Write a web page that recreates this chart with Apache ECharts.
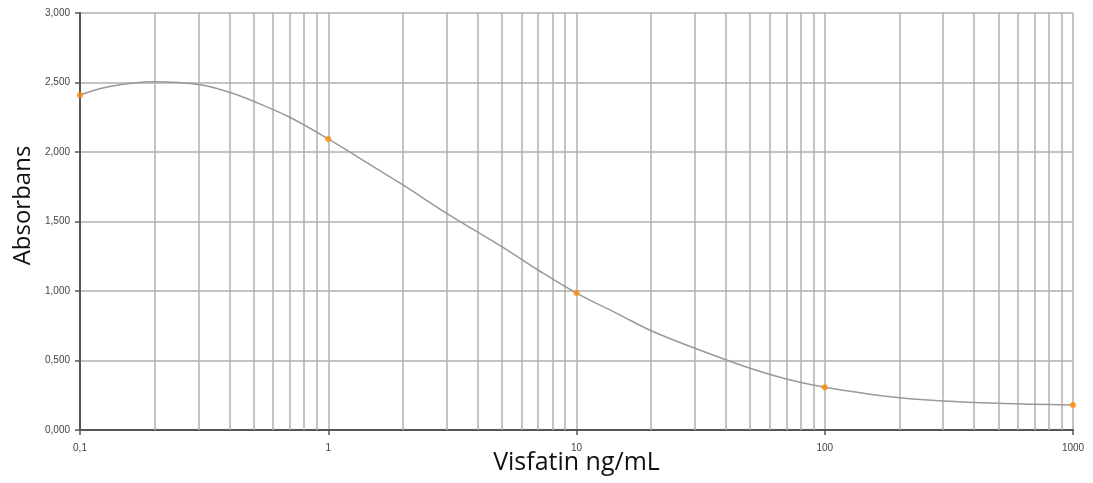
<!DOCTYPE html>
<html>
<head>
<meta charset="utf-8">
<script src="https://cdn.jsdelivr.net/npm/echarts@6/dist/echarts.min.js"></script>
<style>html,body{margin:0;padding:0;background:#fff}#c{width:1093px;height:483px}</style>
</head>
<body>
<div id="c"></div>
<script>
// Measured standards (orange points)
const pointX = [0.1, 1, 10, 100, 1000];
const pointY = [2.41, 2.094, 0.985, 0.307, 0.18];
// Fitted curve
const curveX = [0.1, 0.13, 0.2, 0.3, 0.4, 0.5, 0.7, 1, 1.5, 2, 3, 5, 7, 10, 15, 20, 30, 50, 70, 100, 150, 200, 300, 500, 700, 1000];
const curveY = [2.41, 2.47, 2.505, 2.485, 2.43, 2.365, 2.25, 2.094, 1.90, 1.763, 1.559, 1.319, 1.151, 0.985, 0.827, 0.714, 0.588, 0.444, 0.367, 0.307, 0.259, 0.232, 0.209, 0.192, 0.186, 0.18];
// Axis settings
const xMajorTicks = [0.1, 1, 10, 100, 1000];
const xTickLabels = ['0,1', '1', '10', '100', '1000'];
const yMin = 0, yMax = 3, yStep = 0.5;
const xTitle = 'Visfatin ng/mL';
const yTitle = 'Absorbans';

const minorLines = [];
for (let d = 0; d < xMajorTicks.length - 1; d++) {
  for (let k = 2; k <= 9; k++) minorLines.push({ xAxis: +(xMajorTicks[d] * k).toPrecision(3) });
}

const chart = echarts.init(document.getElementById('c'), null, { renderer: 'canvas' });
chart.setOption({
  animation: false,
  backgroundColor: '#ffffff',
  grid: { left: 80, right: 20, top: 13, bottom: 53, containLabel: false, outerBoundsMode: 'none' },
  xAxis: {
    type: 'log', logBase: 10, min: 0.1, max: 1000,
    name: xTitle, nameLocation: 'middle', nameGap: 20, nameMoveOverlap: false,
    nameTextStyle: { fontFamily: 'Open Sans', fontSize: 25, color: '#111' },
    axisLine: { show: true, onZero: false, lineStyle: { color: '#555', width: 2 } },
    axisTick: { show: true, length: 5, lineStyle: { color: '#555', width: 1.5 } },
    axisLabel: {
      fontFamily: 'Liberation Sans', fontSize: 10, color: '#444', margin: 13,
      formatter: function (v) { const i = xMajorTicks.findIndex(t => Math.abs(t - v) < 1e-9 * Math.max(1, v)); return i >= 0 ? xTickLabels[i] : ''; }
    },
    splitLine: { show: true, lineStyle: { color: '#b0b0b0', width: 1.5 } },
    minorTick: { show: false }, minorSplitLine: { show: false }
  },
  yAxis: {
    type: 'value', min: yMin, max: yMax, interval: yStep,
    name: yTitle, nameLocation: 'middle', nameGap: 45, nameMoveOverlap: false,
    nameTextStyle: { fontFamily: 'Open Sans', fontSize: 24, color: '#111', padding: [0, 0, 0, 32] },
    axisLine: { show: true, lineStyle: { color: '#555', width: 2 } },
    axisTick: { show: true, length: 5, lineStyle: { color: '#555', width: 1.5 } },
    axisLabel: {
      fontFamily: 'Liberation Sans', fontSize: 10, color: '#444', margin: 10,
      formatter: v => v.toFixed(3).replace('.', ',')
    },
    splitLine: { show: true, lineStyle: { color: '#b0b0b0', width: 1.5 } }
  },
  series: [
    {
      type: 'line', name: 'fit', data: curveX.map((x, i) => [x, curveY[i]]),
      smooth: 0.35, showSymbol: false, symbol: 'none',
      lineStyle: { color: '#999999', width: 1.5 }, z: 3,
      markLine: {
        silent: true, symbol: ['none', 'none'], label: { show: false },
        lineStyle: { color: '#b0b0b0', width: 1.5, type: 'solid' },
        data: minorLines, z: 1
      }
    },
    {
      type: 'scatter', name: 'points', data: pointX.map((x, i) => [x, pointY[i]]),
      symbol: 'circle', symbolSize: 6,
      itemStyle: { color: '#ff8a00' }, z: 5
    }
  ]
});
</script>
</body>
</html>
